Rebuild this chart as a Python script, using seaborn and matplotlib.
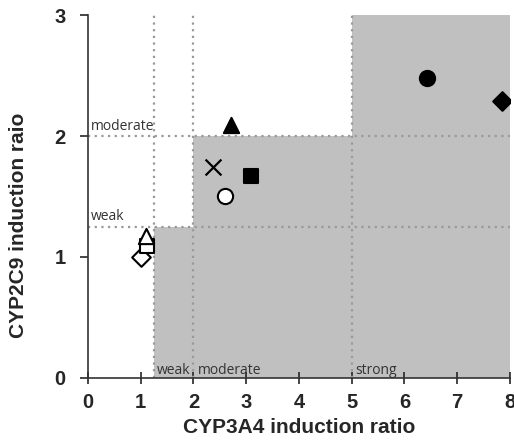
import matplotlib
matplotlib.use("Agg")
import matplotlib.pyplot as plt
import seaborn as sns
import pandas as pd

sns.set_style("ticks")
plt.rcParams['font.family'] = ['Liberation Sans', 'DejaVu Sans']

# Data
cyp3a4 = [1.0, 1.12, 1.1, 2.37, 2.6, 3.09, 2.71, 6.43, 7.85]
cyp2c9 = [1.0, 1.09, 1.17, 1.74, 1.5, 1.67, 2.09, 2.48, 2.29]
markers = ["D", "s", "^", "x", "o", "s", "^", "o", "D"]
filled = [False, False, False, True, False, True, True, True, True]
x_ticks = [0, 1, 2, 3, 4, 5, 6, 7, 8]
y_ticks = [0, 1, 2, 3]

df = pd.DataFrame({"x": cyp3a4, "y": cyp2c9, "m": markers, "f": filled})

fig = plt.figure(figsize=(5.14, 4.43), dpi=100)
ax = fig.add_axes([0.171, 0.147, 0.821, 0.819])

gray = "#c0c0c0"
ax.fill_between([1.25, 8], 0, 1.25, color=gray, lw=0, zorder=0)
ax.fill_between([2, 8], 1.25, 2, color=gray, lw=0, zorder=0)
ax.fill_between([5, 8], 2, 3, color=gray, lw=0, zorder=0)

dcol = "#999999"
for xv in [1.25, 2, 5]:
    ax.axvline(xv, color=dcol, ls=(0, (1, 2)), lw=1.6, zorder=1)
for yv in [1.25, 2]:
    ax.axhline(yv, color=dcol, ls=(0, (1, 2)), lw=1.6, zorder=1)

sizes = {"D": 90, "s": 100, "^": 120, "x": 130, "o": 120}
for _, r in df.iterrows():
    if r["m"] == "x":
        sns.scatterplot(x=[r["x"]], y=[r["y"]], marker="x", s=sizes["x"], color="black",
                        linewidth=1.6, ax=ax, zorder=3)
    else:
        fc = "black" if r["f"] else "white"
        sns.scatterplot(x=[r["x"]], y=[r["y"]], marker=r["m"], s=sizes[r["m"]],
                        facecolor=fc, edgecolor="black", linewidth=1.5, ax=ax, zorder=3)

ax.set_xlim(0, 8)
ax.set_ylim(0, 3)
ax.set_xticks(x_ticks)
ax.set_yticks(y_ticks)
ax.tick_params(axis="x", direction="inout", length=8, width=1.2, labelsize=14.5, pad=7)
ax.tick_params(axis="y", direction="out", length=6, width=1.2, labelsize=14.5, pad=10)
for lab in ax.get_xticklabels() + ax.get_yticklabels():
    lab.set_fontweight("bold")
sns.despine(ax=ax)
for s in ["left", "bottom"]:
    ax.spines[s].set_linewidth(1.2)
    ax.spines[s].set_color("#333333")

ax.set_xlabel("CYP3A4 induction ratio", fontsize=15, fontweight="bold", labelpad=4)
ax.set_ylabel("CYP2C9 induction raio", fontsize=15, fontweight="bold")
ax.yaxis.set_label_coords(-0.142, 0.42)

tfont = dict(fontsize=10, family=["Open Sans", "DejaVu Sans"], color="#333333")
ax.text(0.06, 2.02, "moderate", ha="left", va="bottom", **tfont)
ax.text(0.06, 1.27, "weak", ha="left", va="bottom", **tfont)
ax.text(1.3, 0.0, "weak", ha="left", va="bottom", **tfont)
ax.text(2.08, 0.0, "moderate", ha="left", va="bottom", **tfont)
ax.text(5.07, 0.0, "strong", ha="left", va="bottom", **tfont)

fig.savefig("out.png", dpi=100)
